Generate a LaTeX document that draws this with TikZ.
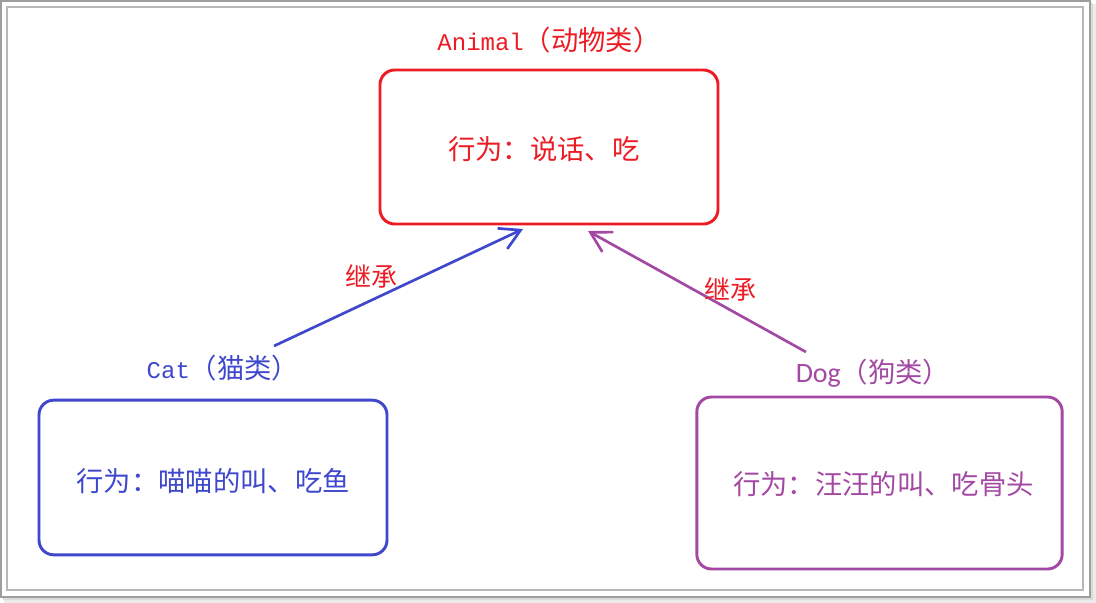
\documentclass[tikz,border=0pt]{standalone}
\usepackage{fontspec}
\setmainfont{Noto Sans CJK SC}
\newfontfamily\latinmono{Liberation Mono}
\newfontfamily\latinsans{Carlito}
\usetikzlibrary{arrows.meta}
\definecolor{cred}{HTML}{ED1C24}
\definecolor{cblue}{HTML}{3F48CC}
\definecolor{cpurple}{HTML}{A349A4}
\newcommand{\boxtext}[2]{\raisebox{#1}[0pt][0pt]{#2}}
\begin{document}
\begin{tikzpicture}[x=0.75pt,y=-0.75pt,
  classbox/.style={draw,line width=2.2pt,rounded corners=11pt,inner sep=0pt,
    text height=0pt,text depth=0pt,
    font=\fontsize{20.5}{24}\selectfont},
  title/.style={inner sep=0pt,font=\fontsize{20.5}{24}\selectfont},
  inherit/.style={line width=2pt,-{Straight Barb[length=15pt,width=17pt,line width=2pt]}},
  lbl/.style={inner sep=0pt,text=cred,font=\fontsize{19.5}{22}\selectfont}]
\useasboundingbox (0,0) rectangle (1096,603);
% frame with shadow
\fill[black!8] (4,4) rectangle (1096,603);
\fill[black!14] (3,3) rectangle (1093,600);
\filldraw[fill=white,draw=black!38,line width=1pt] (1,1) rectangle (1090,597);
\draw[black!28,line width=1pt] (7,7) rectangle (1083,590);
% boxes
\node[classbox,draw=cred,text=cred,minimum width=253.5pt,minimum height=115.5pt] (animal) at (549,147) {\hspace*{-8pt}\boxtext{-9.5pt}{行为：说话、吃}};
\node[classbox,draw=cblue,text=cblue,minimum width=261pt,minimum height=116pt] (cat) at (213,477.5) {\boxtext{-10.8pt}{行为：喵喵的叫、吃鱼}};
\node[classbox,draw=cpurple,text=cpurple,minimum width=274pt,minimum height=129pt] (dog) at (879.5,483) {\hspace*{6pt}\boxtext{-8.8pt}{行为：汪汪的叫、吃骨头}};
% titles
\node[title,text=cred] (animaltitle) at (549,40) {{\latinmono\fontsize{18}{22}\selectfont Animal}（动物类）};
\node[title,text=cblue] (cattitle) at (223,368) {{\latinmono\fontsize{18}{22}\selectfont Cat}（猫类）};
\node[title,text=cpurple] (dogtitle) at (873,373) {{\latinsans\fontsize{21}{22}\selectfont Dog}（狗类）};
% connector ends
\coordinate (catTail) at (274,346);
\coordinate (catHead) at (523,229);
\coordinate (dogTail) at (806,352);
\coordinate (dogHead) at (588,231);
\draw[inherit,cblue] (catTail) -- (catHead);
\draw[inherit,cpurple] (dogTail) -- (dogHead);
% labels
\node[lbl] (lblcat) at (371,276) {继承};
\node[lbl] (lbldog) at (730,289) {继承};
\end{tikzpicture}
\end{document}
